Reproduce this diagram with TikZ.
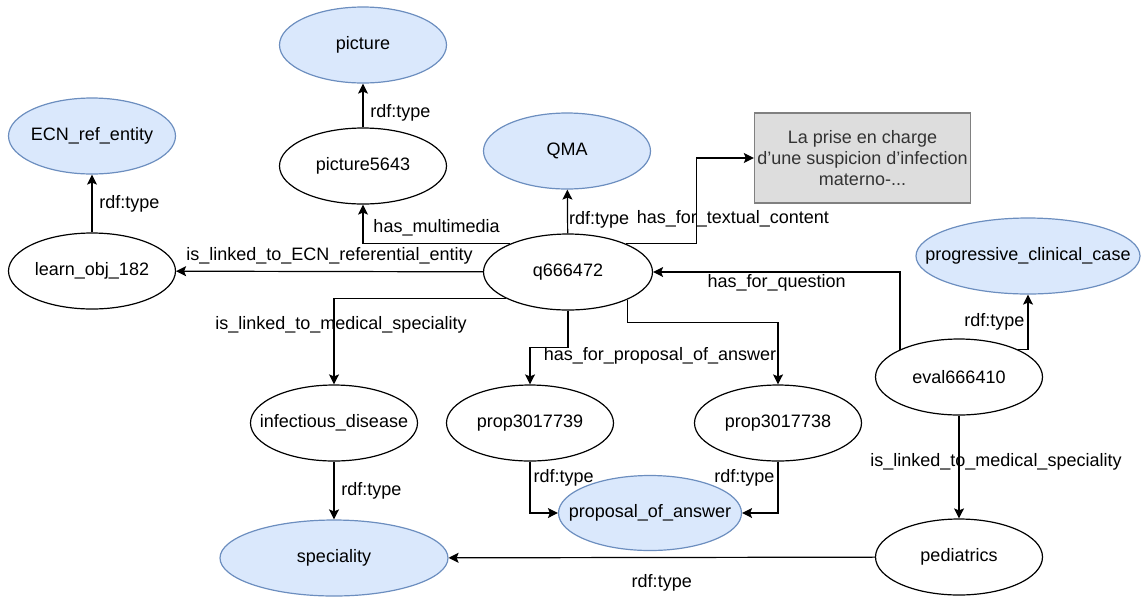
\documentclass[tikz,border=0pt]{standalone}
\usepackage{fontspec}
\setmainfont{Liberation Sans}
\usetikzlibrary{arrows.meta,shapes.geometric}
\definecolor{clsfill}{HTML}{DAE8FC}
\definecolor{clsdraw}{HTML}{6C8EBF}
\definecolor{boxfill}{HTML}{DDDDDD}
\definecolor{boxdraw}{HTML}{808080}
\definecolor{boxtext}{HTML}{333333}
\begin{document}
\begin{tikzpicture}[x=0.5pt, y=-0.5pt,
        every node/.style={font=\fontsize{9pt}{10.5pt}\selectfont},
        inst/.style={ellipse, draw, line width=0.6pt, minimum width=83.5pt, minimum height=38pt, inner xsep=-14pt, inner ysep=0pt},
        cls/.style={inst, draw=clsdraw, fill=clsfill},
        txtbox/.style={rectangle, draw=boxdraw, line width=0.6pt, fill=boxfill, text=boxtext, minimum width=105.5pt, minimum height=45pt, inner xsep=1.5pt, align=center},
        arr/.style={-{Stealth[length=5pt,width=5pt,inset=1pt]}, line width=0.6pt}]
        \useasboundingbox (0,0) rectangle (1141,596);
        \node[cls] (ecn) at (92,136) {ECN\_ref\_entity};
        \node[cls] (picture) at (363,45) {picture};
        \node[inst] (pic) at (363,166) {picture5643};
        \node[cls] (qma) at (567,151) {QMA};
        \node[txtbox] (content) at (862.5,158) {La prise en charge\\d’une suspicion d’infection\\materno-...};
        \node[inst] (learn) at (92,271) {learn\_obj\_182};
        \node[inst, minimum width=84.5pt] (q) at (568,272) {q666472};
        \node[cls, minimum width=112pt] (pcc) at (1028,256) {progressive\_clinical\_case};
        \node[inst] (eval) at (959,377) {eval666410};
        \node[inst] (inf) at (334,423) {infectious\_disease};
        \node[inst] (p1) at (530,423) {prop3017739};
        \node[inst] (p2) at (778,423) {prop3017738};
        \node[cls, minimum width=91.5pt, minimum height=37.5pt] (poa) at (650,513) {proposal\_of\_answer};
        \node[cls, minimum width=114pt] (spec) at (334,558) {speciality};
        \node[inst] (ped) at (959,557) {pediatrics};
        \draw[arr] (learn) -- (ecn) node[midway, right] {rdf:type};
        \draw[arr] (pic) -- (picture) node[pos=0.33, right] {rdf:type};
        \draw[arr] (q) -- (learn) node[midway, above] {is\_linked\_to\_ECN\_referential\_entity};
        \draw[arr] (q.154) -| (pic) node[pos=0.25, above] {has\_multimedia};
        \draw[arr] (q) -- (qma) node[pos=0.31, right, inner sep=0.5pt] {rdf:type};
        \draw[arr] (q.26) -| ([xshift=-28.5pt]content.west) node[pos=0.5, xshift=18pt, yshift=12.5pt] {has\_for\_textual\_content} -- (content);
        \draw[arr] (eval.155) |- (q) node[pos=0.75, below, inner sep=1pt] {has\_for\_question};
        \draw[arr] (eval.25) -| (pcc) node[pos=0.75, left, inner sep=1.5pt] {rdf:type};
        \draw[arr] (eval) -- (ped) node[pos=0.45, xshift=18.5pt] {is\_linked\_to\_medical\_speciality};
        \draw[arr] (q.203) -| (inf) node[pos=0.655, xshift=3.5pt] {is\_linked\_to\_medical\_speciality};
        \draw[arr] (q.south) -- ++(0,37) node[pos=1, xshift=46pt, yshift=-4pt] {has\_for\_proposal\_of\_answer} -| (p1);
        \draw[arr] (q.335) -- ++(0,23) -| (p2);
        \draw[arr] (p1) |- (poa) node[pos=0.155, right, inner sep=1.5pt] {rdf:type};
        \draw[arr] (p2) |- (poa) node[pos=0.155, left, inner sep=1.5pt] {rdf:type};
        \draw[arr] (inf) -- (spec) node[midway, right] {rdf:type};
        \draw[arr] (ped) -- (spec) node[midway, below=5pt] {rdf:type};
    \end{tikzpicture}
\end{document}
